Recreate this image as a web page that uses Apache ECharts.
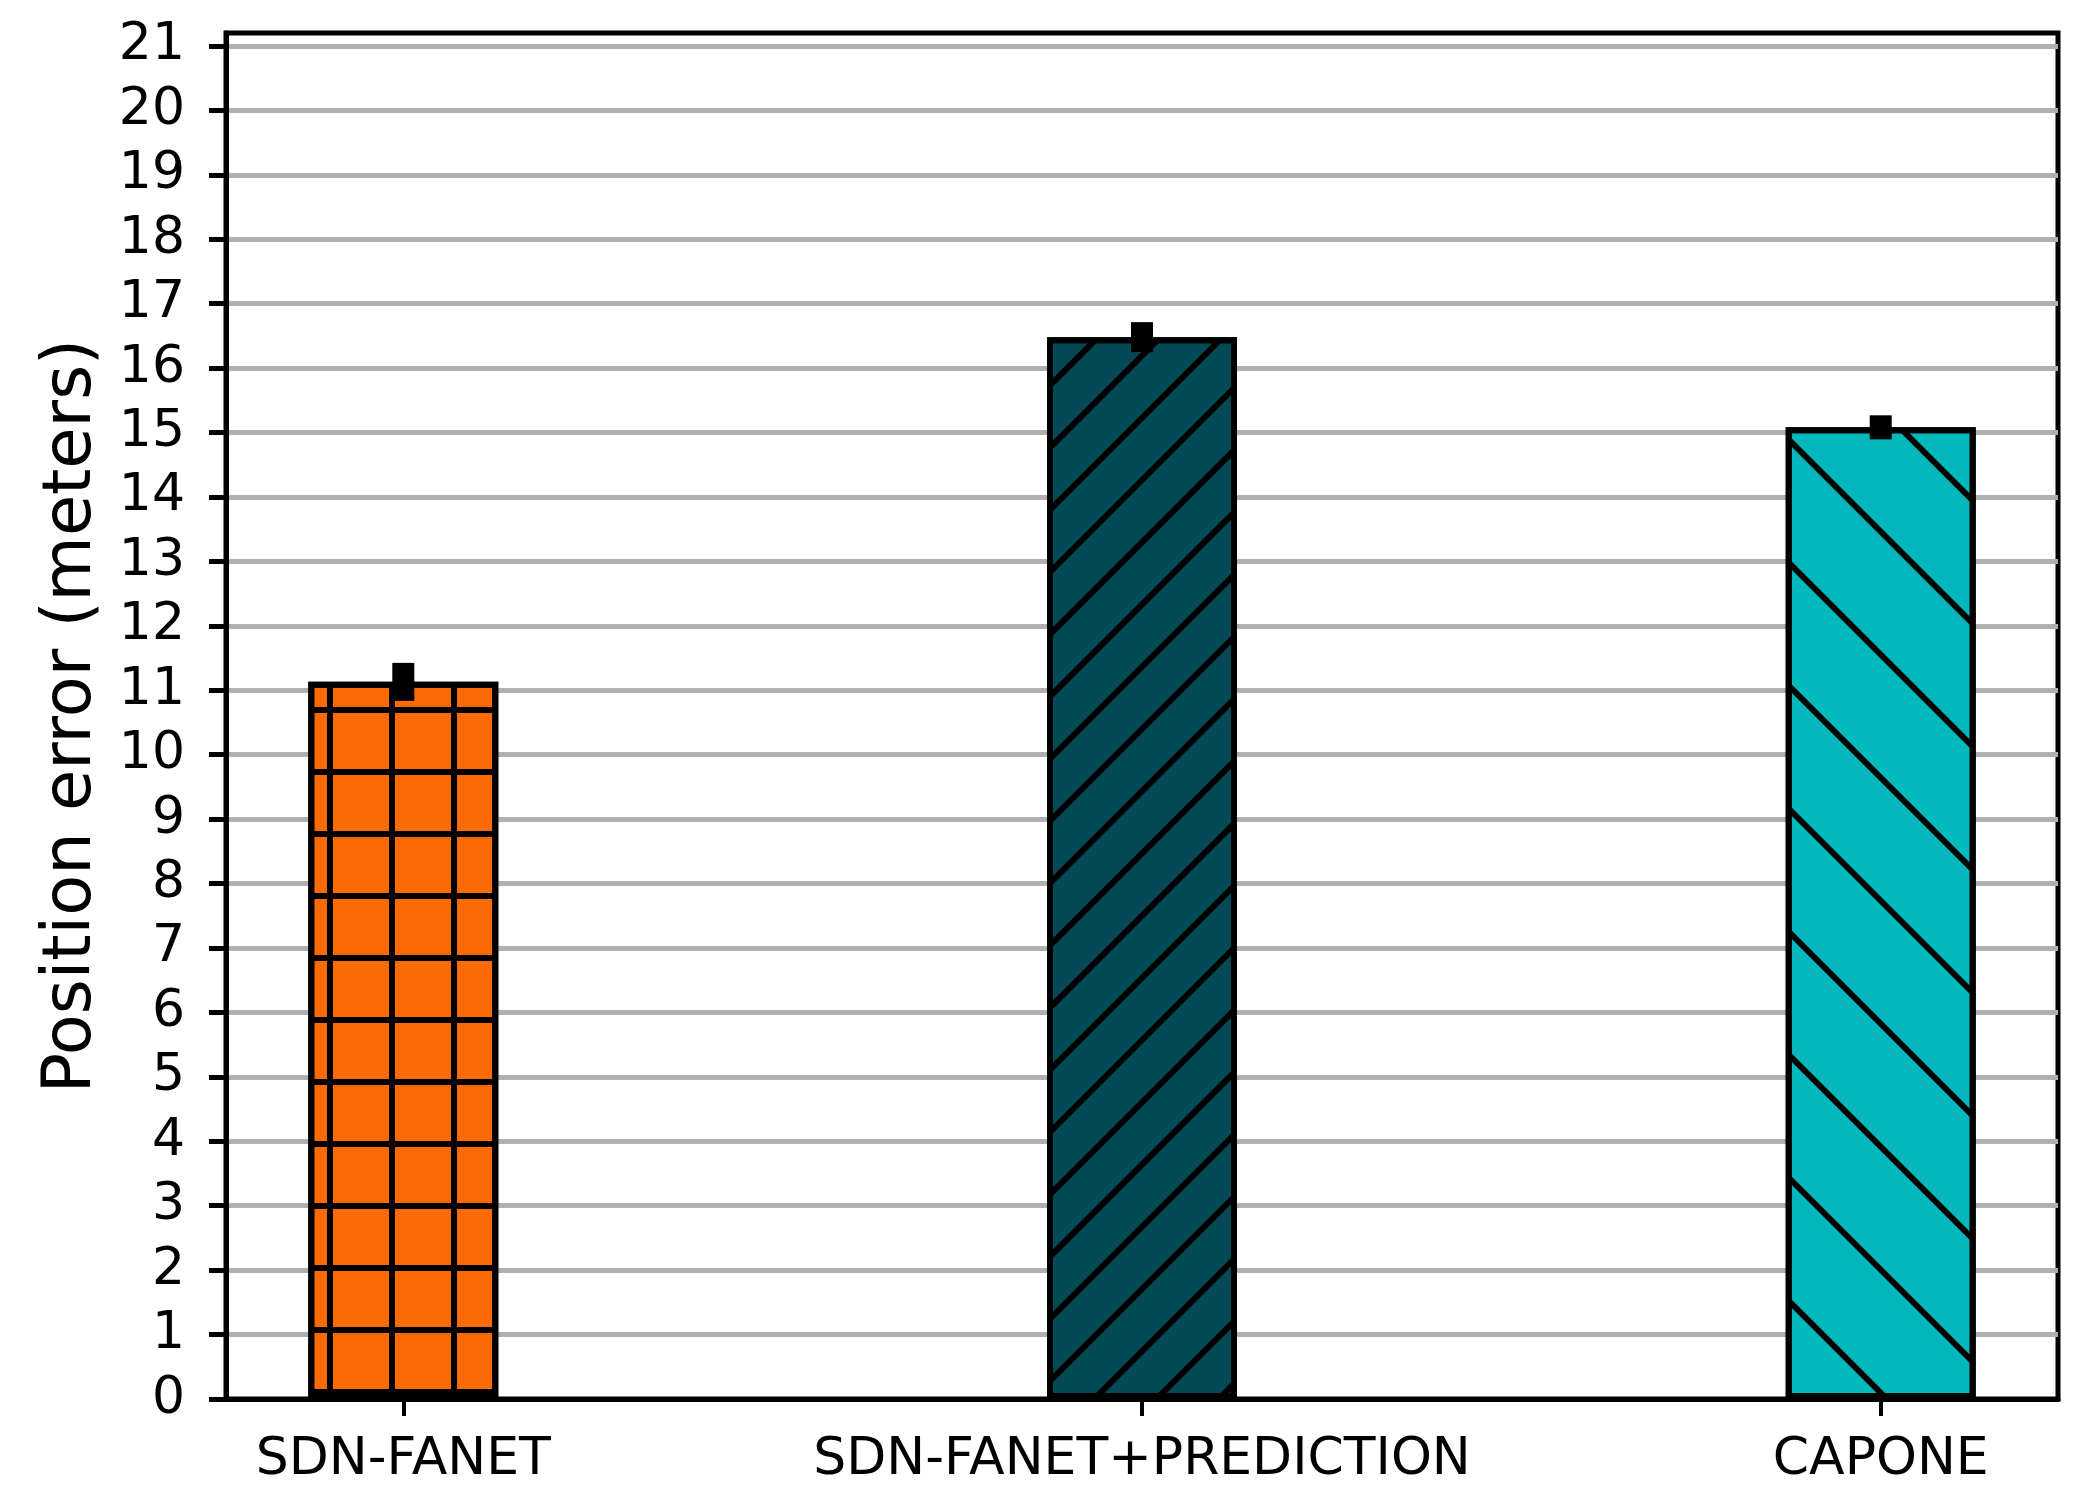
<!DOCTYPE html>
<html>
<head>
<meta charset="utf-8">
<script src="https://cdn.jsdelivr.net/npm/echarts@6/dist/echarts.min.js"></script>
<style>
  html, body { margin: 0; padding: 0; background: #fff; }
  #chart { width: 2099px; height: 1507px; }
</style>
</head>
<body>
<div id="chart"></div>
<script>
const categories = ['SDN-FANET', 'SDN-FANET+PREDICTION', 'CAPONE'];
const positionError = [11.13, 16.48, 15.08];
const errorHalf = [0.124, 0.062, 0.016];
const xTicks = [0, 1, 2];
const yTicks = [0, 1, 2, 3, 4, 5, 6, 7, 8, 9, 10, 11, 12, 13, 14, 15, 16, 17, 18, 19, 20, 21];

const barColors = ['#fc6a03', '#034a56', '#03b8bc'];
const FONT = 'DejaVu Sans';

const decals = [
  { // '+' grid hatch
    symbol: 'path://M17,0 L23,0 L23,62 L17,62 Z M0,25 L62,25 L62,31 L0,31 Z',
    symbolSize: 1, symbolKeepAspect: false,
    dashArrayX: [62, 0], dashArrayY: [62, 0],
    color: '#000', rotation: 0
  },
  { // '/' hatch
    symbol: 'rect', symbolSize: 1, symbolKeepAspect: false,
    dashArrayX: [50, 0], dashArrayY: [6, 38],
    color: '#000', rotation: -Math.PI / 4
  },
  { // '\' hatch (sparse)
    symbol: 'rect', symbolSize: 1, symbolKeepAspect: false,
    dashArrayX: [50, 0], dashArrayY: [6, 81],
    color: '#000', rotation: Math.PI / 4
  }
];

const chart = echarts.init(document.getElementById('chart'), null, { renderer: 'canvas' });

const option = {
  animation: false,
  backgroundColor: '#fff',
  textStyle: { fontFamily: FONT },
  grid: {
    left: 226, right: 41, top: 33, bottom: 108,
    show: true, borderColor: '#000', borderWidth: 5, backgroundColor: 'transparent'
  },
  xAxis: {
    type: 'value', min: -0.24, max: 2.24,
    axisLine: { show: true, onZero: false, lineStyle: { color: '#000', width: 5 } },
    axisTick: { show: true, customValues: xTicks, length: 17, lineStyle: { color: '#000', width: 4 } },
    axisLabel: {
      customValues: xTicks, margin: 35,
      fontSize: 52, color: '#000', fontFamily: FONT,
      formatter: v => categories[Math.round(v)]
    },
    splitLine: { show: false }
  },
  yAxis: {
    type: 'value', min: 0, max: 21.2,
    name: 'Position error (meters)', nameLocation: 'middle', nameGap: 120,
    nameTextStyle: { fontSize: 67, color: '#000', fontFamily: FONT },
    axisLine: { show: true, onZero: false, lineStyle: { color: '#000', width: 5 } },
    axisTick: { show: true, customValues: yTicks, length: 17, lineStyle: { color: '#000', width: 5 } },
    axisLabel: { customValues: yTicks, margin: 41, fontSize: 52, color: '#000', fontFamily: FONT },
    splitLine: { show: true, lineStyle: { color: '#b0b0b0', width: 5 } }
  },
  series: [
    {
      type: 'bar',
      barWidth: 190,
      z: 2,
      data: positionError.map((v, i) => ({
        value: [i, v],
        itemStyle: { color: barColors[i], borderColor: '#000', borderWidth: 6, decal: decals[i] }
      }))
    },
    {
      type: 'custom',
      z: 5,
      data: positionError.map((v, i) => [i, v, errorHalf[i]]),
      renderItem: function (params, api) {
        const x = api.value(0), m = api.value(1), e = api.value(2);
        const top = api.coord([x, m + e]);
        const bot = api.coord([x, m - e]);
        const w = 22;
        return {
          type: 'rect',
          shape: { x: top[0] - w / 2, y: top[1] - w / 2, width: w, height: bot[1] - top[1] + w },
          style: { fill: '#000' }
        };
      }
    }
  ]
};
chart.setOption(option);
</script>
</body>
</html>
